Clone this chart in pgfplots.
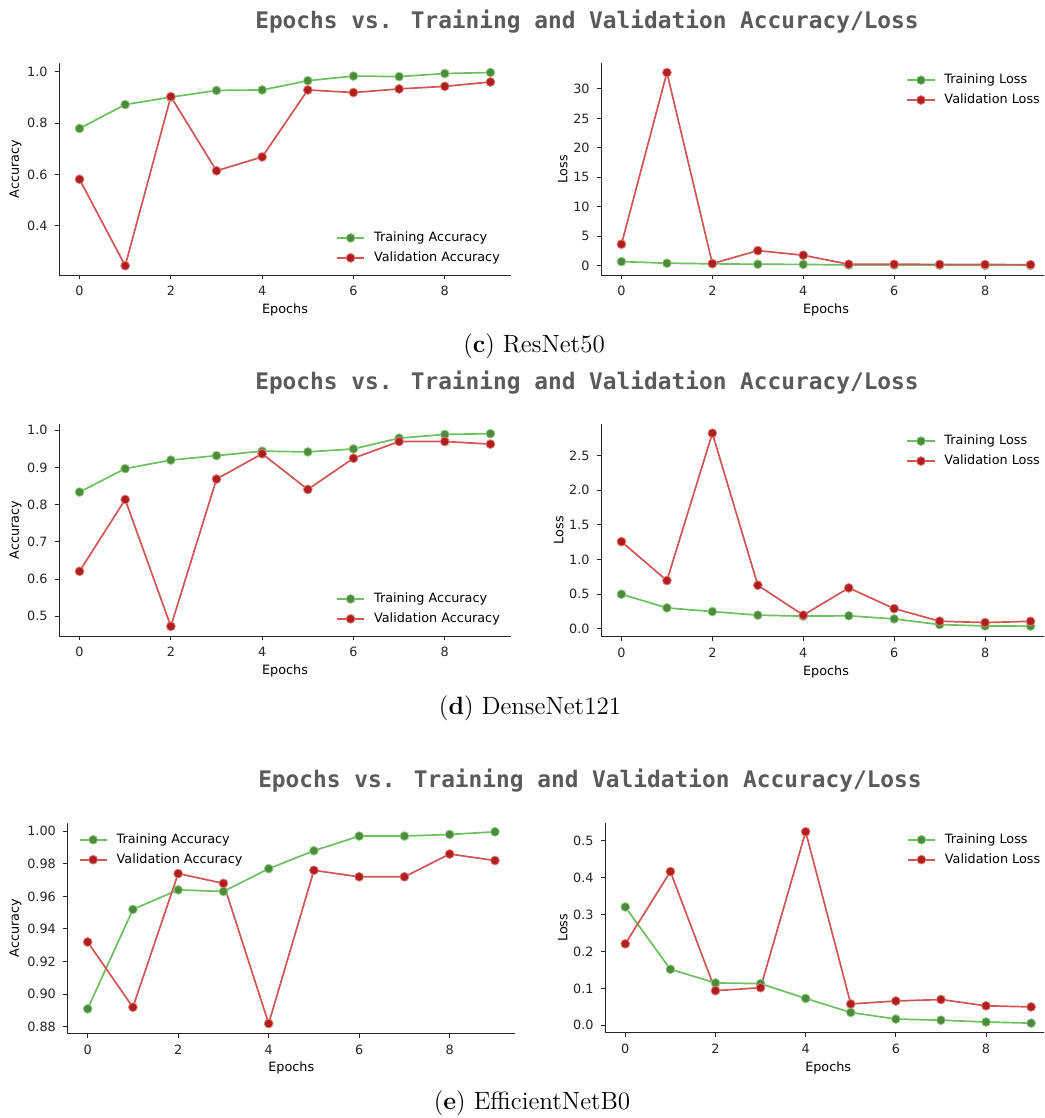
\documentclass[border=0pt]{standalone}
\usepackage{fontspec}
\usepackage{pgfplots}
\pgfplotsset{compat=1.18}
\newfontfamily\dejavu{DejaVu Sans}
\newfontfamily\dejavumono{DejaVu Sans Mono}
\definecolor{trline}{HTML}{6CC060}
\definecolor{trmark}{HTML}{4E8A3E}
\definecolor{tredge}{HTML}{8FD080}
\definecolor{valine}{HTML}{D05555}
\definecolor{vamark}{HTML}{B01E1E}
\definecolor{vaedge}{HTML}{E07878}
\definecolor{titlegray}{HTML}{5A5A5A}
\pgfplotsset{
  panel/.style={
    scale only axis,
    axis x line*=bottom, axis y line*=left,
    axis line style={-, black!85, line width=0.5pt},
    xmin=-0.45, xmax=9.45,
    xtick={0,2,4,6,8},
    tick align=outside,
    major tick length=2.2pt,
    tick style={black!85, line width=0.5pt},
    ticklabel style={font=\dejavu\fontsize{6.4}{7}\selectfont, text=black!85},
    label style={font=\dejavu\fontsize{6.4}{7}\selectfont},
    xlabel shift=-3pt, ylabel shift=-4pt,
    /pgf/number format/assume math mode=true,
    xlabel={Epochs},
    legend style={draw=none, fill=none, font=\dejavu\fontsize{6.4}{7}\selectfont, row sep=1.6pt, inner sep=1pt, nodes={inner sep=1pt},
      /tikz/every odd column/.append style={column sep=3.5pt}},
    legend cell align=left,
    legend image code/.code={\draw[mark repeat=2,mark phase=2] plot coordinates {(0cm,0cm) (0.24cm,0cm) (0.48cm,0cm)};},
  },
  tr/.style={trline, line width=0.85pt, mark=*, mark size=2.2pt, mark options={fill=trmark, draw=tredge, line width=0.4pt}},
  va/.style={valine, line width=0.85pt, mark=*, mark size=2.2pt, mark options={fill=vamark, draw=vaedge, line width=0.4pt}},
  fmt1/.style={yticklabel style={/pgf/number format/.cd, fixed, fixed zerofill, precision=1}},
  fmt2/.style={yticklabel style={/pgf/number format/.cd, fixed, fixed zerofill, precision=2}},
}
\begin{document}
\begin{tikzpicture}
\clip (0,0) rectangle (522pt,-559pt);
% ---------- titles ----------
\node[font=\dejavumono\bfseries\fontsize{11.4}{13}\selectfont, text=titlegray] at (293.5pt,-11pt) {Epochs vs. Training and Validation Accuracy/Loss};
\node[font=\dejavumono\bfseries\fontsize{11.4}{13}\selectfont, text=titlegray] at (293.5pt,-191.5pt) {Epochs vs. Training and Validation Accuracy/Loss};
\node[font=\dejavumono\bfseries\fontsize{11.4}{13}\selectfont, text=titlegray] at (295pt,-390.5pt) {Epochs vs. Training and Validation Accuracy/Loss};
% ---------- captions ----------
\node[font=\fontsize{12.5}{14}\selectfont] at (267pt,-173pt) {(\textbf{c}) ResNet50};
\node[font=\fontsize{12.5}{14}\selectfont] at (265pt,-354pt) {(\textbf{d}) DenseNet121};
\node[font=\fontsize{12.5}{14}\selectfont] at (266pt,-551.5pt) {(\textbf{e}) EfficientNetB0};

% ---------- (c) ResNet50 ----------
\begin{axis}[panel, fmt1, at={(29.5pt,-137.5pt)}, anchor=south west, width=226pt, height=106pt,
  ymin=0.209, ymax=1.035, ytick={0.4,0.6,0.8,1.0}, ylabel={Accuracy},
  legend style={at={(0.985,0.03)}, anchor=south east}]
\addplot[tr] coordinates {(0,0.780)(1,0.873)(2,0.902)(3,0.928)(4,0.930)(5,0.966)(6,0.984)(7,0.982)(8,0.994)(9,0.998)};
\addplot[va] coordinates {(0,0.582)(1,0.245)(2,0.904)(3,0.615)(4,0.669)(5,0.930)(6,0.920)(7,0.934)(8,0.944)(9,0.961)};
\legend{Training Accuracy, Validation Accuracy}
\end{axis}
\begin{axis}[panel, at={(300.5pt,-137.5pt)}, anchor=south west, width=225pt, height=106pt,
  ymin=-1.6, ymax=34.4, ytick={0,5,10,15,20,25,30}, ylabel={Loss},
  legend style={at={(0.985,0.97)}, anchor=north east}]
\addplot[tr] coordinates {(0,0.68)(1,0.40)(2,0.30)(3,0.22)(4,0.20)(5,0.10)(6,0.08)(7,0.07)(8,0.05)(9,0.04)};
\addplot[va] coordinates {(0,3.63)(1,32.78)(2,0.34)(3,2.54)(4,1.76)(5,0.22)(6,0.22)(7,0.20)(8,0.18)(9,0.15)};
\legend{Training Loss, Validation Loss}
\end{axis}

% ---------- (d) DenseNet121 ----------
\begin{axis}[panel, fmt1, at={(29.5pt,-318pt)}, anchor=south west, width=226pt, height=106pt,
  ymin=0.447, ymax=1.017, ytick={0.5,0.6,0.7,0.8,0.9,1.0}, ylabel={Accuracy},
  legend style={at={(0.985,0.03)}, anchor=south east}]
\addplot[tr] coordinates {(0,0.834)(1,0.897)(2,0.920)(3,0.932)(4,0.944)(5,0.942)(6,0.950)(7,0.979)(8,0.989)(9,0.991)};
\addplot[va] coordinates {(0,0.621)(1,0.814)(2,0.473)(3,0.869)(4,0.937)(5,0.841)(6,0.925)(7,0.970)(8,0.970)(9,0.963)};
\legend{Training Accuracy, Validation Accuracy}
\end{axis}
\begin{axis}[panel, fmt1, at={(300.5pt,-318.3pt)}, anchor=south west, width=225pt, height=106.3pt,
  ymin=-0.116, ymax=2.958, ytick={0,0.5,1.0,1.5,2.0,2.5}, ylabel={Loss},
  legend style={at={(0.985,0.97)}, anchor=north east}]
\addplot[tr] coordinates {(0,0.497)(1,0.299)(2,0.246)(3,0.194)(4,0.180)(5,0.185)(6,0.140)(7,0.058)(8,0.038)(9,0.035)};
\addplot[va] coordinates {(0,1.257)(1,0.694)(2,2.825)(3,0.627)(4,0.194)(5,0.588)(6,0.289)(7,0.107)(8,0.087)(9,0.105)};
\legend{Training Loss, Validation Loss}
\end{axis}

% ---------- (e) EfficientNetB0 ----------
\begin{axis}[panel, fmt2, at={(33.65pt,-516.65pt)}, anchor=south west, width=224pt, height=105.3pt,
  ymin=0.876, ymax=1.0052, ytick={0.88,0.90,0.92,0.94,0.96,0.98,1.00}, ylabel={Accuracy},
  legend style={at={(0.02,0.97)}, anchor=north west}]
\addplot[tr] coordinates {(0,0.891)(1,0.952)(2,0.964)(3,0.963)(4,0.977)(5,0.988)(6,0.997)(7,0.997)(8,0.998)(9,0.9996)};
\addplot[va] coordinates {(0,0.932)(1,0.892)(2,0.974)(3,0.968)(4,0.882)(5,0.976)(6,0.972)(7,0.972)(8,0.986)(9,0.982)};
\legend{Training Accuracy, Validation Accuracy}
\end{axis}
\begin{axis}[panel, fmt1, at={(302.5pt,-516.35pt)}, anchor=south west, width=223.2pt, height=105pt,
  ymin=-0.020, ymax=0.5495, ytick={0,0.1,0.2,0.3,0.4,0.5}, ylabel={Loss},
  legend style={at={(0.985,0.97)}, anchor=north east}]
\addplot[tr] coordinates {(0,0.321)(1,0.152)(2,0.115)(3,0.113)(4,0.073)(5,0.035)(6,0.017)(7,0.014)(8,0.009)(9,0.006)};
\addplot[va] coordinates {(0,0.221)(1,0.417)(2,0.094)(3,0.102)(4,0.525)(5,0.058)(6,0.066)(7,0.070)(8,0.053)(9,0.050)};
\legend{Training Loss, Validation Loss}
\end{axis}
\end{tikzpicture}
\end{document}
